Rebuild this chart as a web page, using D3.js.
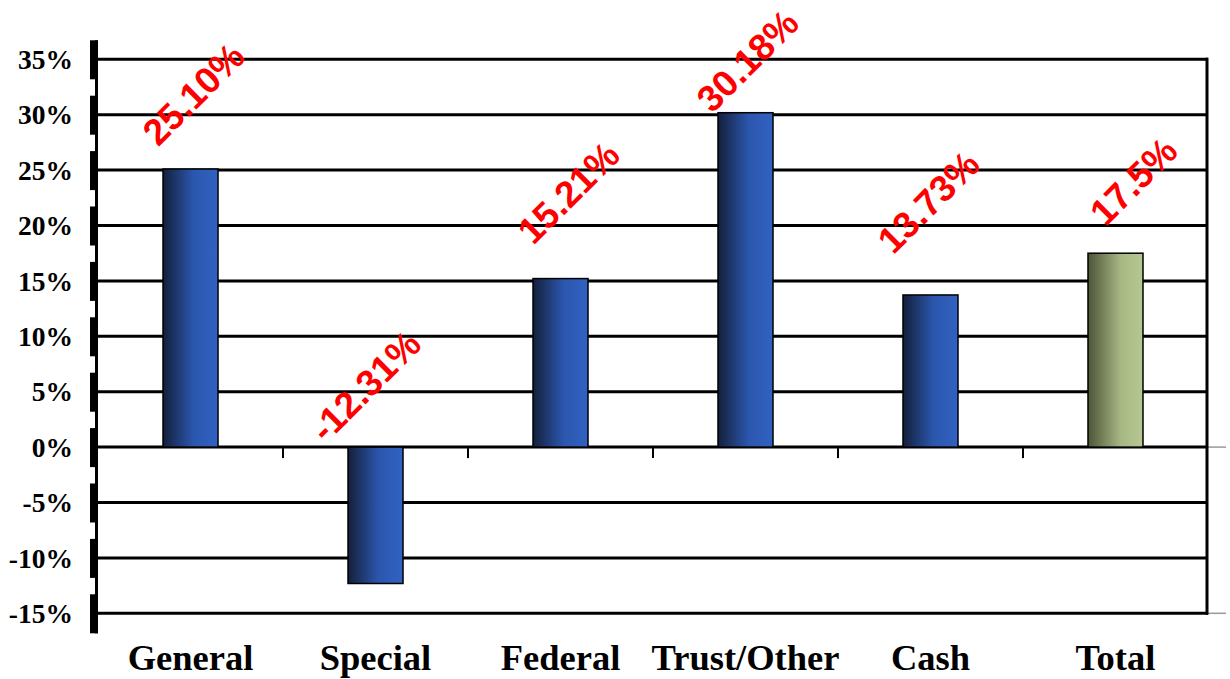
<!DOCTYPE html>
<html>
<head>
<meta charset="utf-8">
<script src="https://cdn.jsdelivr.net/npm/d3@7"></script>
<style>
  body { margin: 0; background: #fff; }
  svg { display: block; }
</style>
</head>
<body>
<div id="chart"></div>
<script>
// Data
const categories = ["General", "Special", "Federal", "Trust/Other", "Cash", "Total"];
const growth = [25.10, -12.31, 15.21, 30.18, 13.73, 17.5];
const valueLabels = ["25.10%", "-12.31%", "15.21%", "30.18%", "13.73%", "17.5%"];
const yTicks = [-15, -10, -5, 0, 5, 10, 15, 20, 25, 30, 35];

// hand-placed labels in the original: [dx, lift] in pixels from bar top
const labelNudge = [[3, 75], [-10, 61], [8, 86], [2, 52], [-2, 93], [18, 72]];

const W = 1230, H = 679;
const plot = { left: 98, right: 1208, top: 59.3, bottom: 613.3 };

const svg = d3.select("#chart").append("svg")
    .attr("width", W)
    .attr("height", H);

const defs = svg.append("defs");
function makeGrad(id, stops) {
    const g = defs.append("linearGradient").attr("id", id)
        .attr("x1", "0%").attr("x2", "100%").attr("y1", "0%").attr("y2", "0%");
    stops.forEach(s => g.append("stop").attr("offset", s[0]).attr("stop-color", s[1]));
}
makeGrad("blueGrad", [["0%", "#141f3a"], ["55%", "#2b56ad"], ["100%", "#3162c2"]]);
makeGrad("greenGrad", [["0%", "#4d5538"], ["60%", "#a8b884"], ["100%", "#b6c791"]]);

// Scales
const x = d3.scaleBand()
    .domain(categories)
    .range([plot.left, plot.right])
    .paddingInner(0.7027)
    .paddingOuter(0.3514);

const y = d3.scaleLinear()
    .domain([-15, 35])
    .range([plot.bottom, plot.top]);

// Gridlines
svg.append("g")
    .selectAll("line")
    .data(yTicks)
    .join("line")
    .attr("x1", plot.left)
    .attr("x2", plot.right)
    .attr("y1", d => y(d))
    .attr("y2", d => y(d))
    .attr("stroke", "#000")
    .attr("stroke-width", 3);

// gray stubs past the right border
[0, -15].forEach(v => {
    svg.append("line")
        .attr("x1", plot.right).attr("x2", 1226)
        .attr("y1", y(v)).attr("y2", y(v))
        .attr("stroke", "#999").attr("stroke-width", 1.5);
});

// Right border
svg.append("line")
    .attr("x1", plot.right - 1).attr("x2", plot.right - 1)
    .attr("y1", plot.top - 1.5).attr("y2", plot.bottom + 1.5)
    .attr("stroke", "#000").attr("stroke-width", 3);

// Bars
svg.append("g")
    .selectAll("rect")
    .data(growth)
    .join("rect")
    .attr("x", (d, i) => x(categories[i]))
    .attr("width", x.bandwidth())
    .attr("y", d => y(Math.max(0, d)))
    .attr("height", d => Math.abs(y(d) - y(0)))
    .attr("fill", (d, i) => categories[i] === "Total" ? "url(#greenGrad)" : "url(#blueGrad)")
    .attr("stroke", "#000")
    .attr("stroke-width", 1.5);

// Category ticks between groups, hanging below zero
const gap = (x.step() - x.bandwidth()) / 2;
svg.append("g")
    .selectAll("line")
    .data(categories.slice(1))
    .join("line")
    .attr("x1", d => x(d) - gap)
    .attr("x2", d => x(d) - gap)
    .attr("y1", y(0) + 1)
    .attr("y2", y(0) + 11)
    .attr("stroke", "#000")
    .attr("stroke-width", 2);

// Category labels
svg.append("g")
    .selectAll("text")
    .data(categories)
    .join("text")
    .attr("x", d => x(d) + x.bandwidth() / 2)
    .attr("y", 670)
    .attr("text-anchor", "middle")
    .style("font-family", "'Liberation Serif', 'Times New Roman', serif")
    .style("font-weight", "bold")
    .style("font-size", "36.5px")
    .text(d => d);

// Y axis: heavy line with block ticks
const yAxis = svg.append("g");
yAxis.append("rect")
    .attr("x", 95).attr("width", 3)
    .attr("y", y(35) - 19).attr("height", (y(-15) + 20) - (y(35) - 19))
    .attr("fill", "#000");
yAxis.selectAll("rect.blk")
    .data(yTicks)
    .join("rect")
    .attr("class", "blk")
    .attr("x", 90).attr("width", 8)
    .attr("y", d => y(d) - 19)
    .attr("height", 39)
    .attr("fill", "#000");
yAxis.selectAll("text")
    .data(yTicks)
    .join("text")
    .attr("x", 73)
    .attr("y", d => y(d))
    .attr("dy", "0.35em")
    .attr("text-anchor", "end")
    .style("font-family", "'Liberation Serif', 'Times New Roman', serif")
    .style("font-weight", "bold")
    .style("font-size", "27.5px")
    .text(d => d + "%");

// Value labels, rotated
svg.append("g")
    .selectAll("text")
    .data(growth)
    .join("text")
    .attr("transform", (d, i) => {
        const cx = x(categories[i]) + x.bandwidth() / 2 + labelNudge[i][0];
        const cy = y(Math.max(0, d)) - labelNudge[i][1];
        return `translate(${cx},${cy}) rotate(-45)`;
    })
    .attr("text-anchor", "middle")
    .attr("dy", "0.35em")
    .attr("fill", "#ff0000")
    .style("font-family", "'Liberation Sans', Arial, sans-serif")
    .style("font-weight", "bold")
    .style("font-size", "37px")
    .text((d, i) => valueLabels[i]);
</script>
</body>
</html>
